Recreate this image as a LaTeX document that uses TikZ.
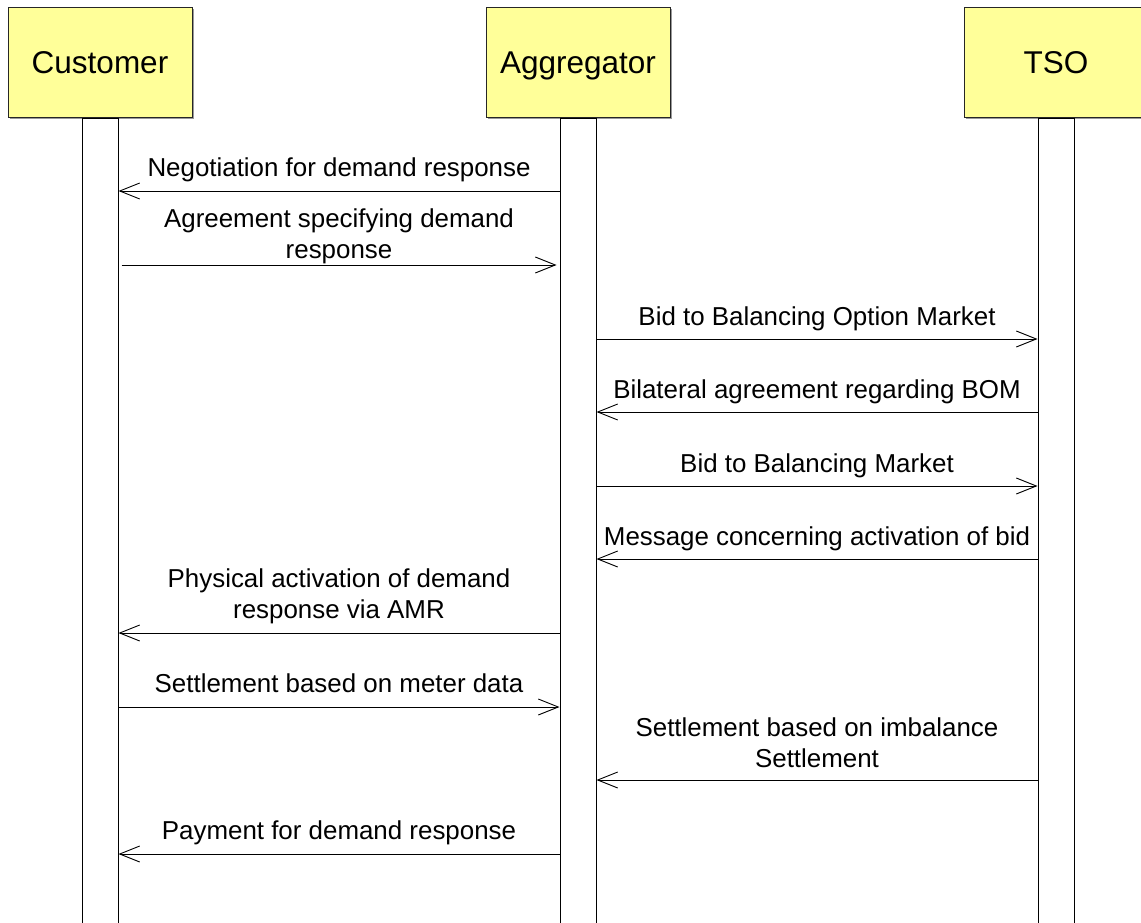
\documentclass[tikz,border=0pt]{standalone}
\usepackage{fontspec}
\setmainfont{Liberation Sans}
\usetikzlibrary{arrows.meta,shadows}
\definecolor{headfill}{RGB}{255,255,153}
\begin{document}
\begin{tikzpicture}[x=1pt,y=-1pt,
  actor/.style={draw=black!85, fill=headfill, line width=1pt,
    minimum width=184pt, minimum height=110pt, inner sep=0pt,
    text height=22pt, text depth=0pt,
    font=\fontsize{31.5}{37}\selectfont,
    drop shadow={shadow xshift=1.5pt, shadow yshift=-1.5pt, fill=black!40, opacity=1}},
  lifebar/.style={draw=black, fill=white, line width=1pt,
    minimum width=36pt, minimum height=815pt, anchor=north, inner sep=0pt},
  msg/.style={line width=0.9pt,
    -{Straight Barb[length=20pt,width=16pt,line width=0.9pt]}},
  lbl/.style={font=\fontsize{25.9}{31}\selectfont, align=center,
    anchor=base, inner sep=0pt}
]
\useasboundingbox (0,0) rectangle (1141,923);

% participants
\node[actor] (cust) at (100,63) {Customer};
\node[actor] (agg)  at (578,63) {Aggregator};
\node[actor] (tso)  at (1056,63) {TSO};

% lifelines
\node[lifebar] (cbar) at (cust.south) {};
\node[lifebar] (abar) at (agg.south) {};
\node[lifebar] (tbar) at (tso.south) {};

% message rows
\coordinate (m1)  at (0,191);
\coordinate (m2)  at (0,265);
\coordinate (m3)  at (0,339);
\coordinate (m4)  at (0,412);
\coordinate (m5)  at (0,486);
\coordinate (m6)  at (0,559);
\coordinate (m7)  at (0,633);
\coordinate (m8)  at (0,707);
\coordinate (m9)  at (0,780);
\coordinate (m10) at (0,854);

\draw[msg] (abar.west |- m1) -- node[lbl, midway, yshift=15pt] {Negotiation for demand response} (cbar.east |- m1);
\draw[msg, shorten <=3pt, shorten >=3pt] (cbar.east |- m2) -- node[lbl, midway, yshift=7pt] {Agreement specifying demand\\response} (abar.west |- m2);
\draw[msg] (abar.east |- m3) -- node[lbl, midway, yshift=14pt] {Bid to Balancing Option Market} (tbar.west |- m3);
\draw[msg] (tbar.west |- m4) -- node[lbl, midway, yshift=14pt] {Bilateral agreement regarding BOM} (abar.east |- m4);
\draw[msg] (abar.east |- m5) -- node[lbl, midway, yshift=14pt] {Bid to Balancing Market} (tbar.west |- m5);
\draw[msg] (tbar.west |- m6) -- node[lbl, midway, yshift=14pt] {Message concerning activation of bid} (abar.east |- m6);
\draw[msg] (abar.west |- m7) -- node[lbl, midway, yshift=15pt] {Physical activation of demand\\response via AMR} (cbar.east |- m7);
\draw[msg] (cbar.east |- m8) -- node[lbl, midway, yshift=15pt] {Settlement based on meter data} (abar.west |- m8);
\draw[msg] (tbar.west |- m9) -- node[lbl, midway, yshift=13pt] {Settlement based on imbalance\\Settlement} (abar.east |- m9);
\draw[msg] (abar.west |- m10) -- node[lbl, midway, yshift=15pt] {Payment for demand response} (cbar.east |- m10);
\end{tikzpicture}
\end{document}
